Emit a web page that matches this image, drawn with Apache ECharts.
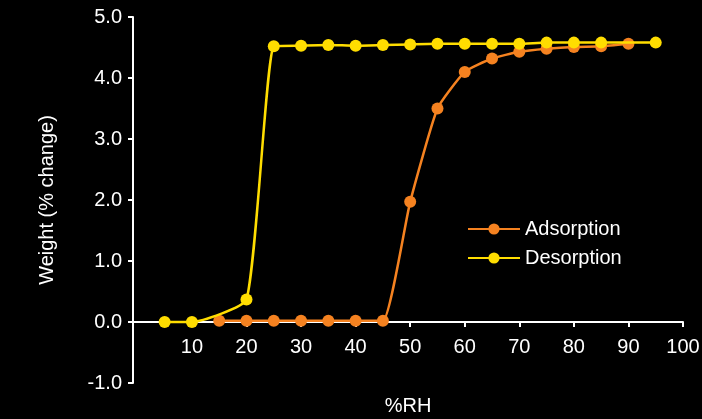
<!DOCTYPE html>
<html>
<head>
<meta charset="utf-8">
<script src="https://cdn.jsdelivr.net/npm/echarts@6/dist/echarts.min.js"></script>
<style>
html,body{margin:0;padding:0;background:#000;}
#c{width:702px;height:419px;}
</style>
</head>
<body>
<div id="c"></div>
<script>
const adsorptionRH = [15, 20, 25, 30, 35, 40, 45, 50, 55, 60, 65, 70, 75, 80, 85, 90];
const adsorptionWt = [0.02, 0.02, 0.02, 0.02, 0.02, 0.02, 0.02, 1.97, 3.5, 4.1, 4.32, 4.43, 4.48, 4.51, 4.52, 4.56];
const desorptionRH = [5, 10, 20, 25, 30, 35, 40, 45, 50, 55, 60, 65, 70, 75, 80, 85, 95];
const desorptionWt = [0.0, 0.0, 0.37, 4.52, 4.53, 4.54, 4.53, 4.54, 4.55, 4.56, 4.56, 4.56, 4.56, 4.58, 4.58, 4.58, 4.58];
const xTicks = [10, 20, 30, 40, 50, 60, 70, 80, 90, 100];
const yTicks = [-1, 0, 1, 2, 3, 4, 5];

const FONT = '"Liberation Sans", Arial, Helvetica, sans-serif';
const chart = echarts.init(document.getElementById('c'));
chart.setOption({
  backgroundColor: '#000',
  animation: false,
  grid: { left: 133, right: 19, top: 17, bottom: 36, containLabel: false, outerBoundsMode: 'none' },
  legend: {
    orient: 'vertical',
    left: 467,
    top: 219,
    padding: 0,
    itemWidth: 52,
    itemHeight: 14,
    itemGap: 9,
    textStyle: { color: '#fff', fontSize: 20, fontFamily: FONT },
    data: ['Adsorption', 'Desorption']
  },
  xAxis: {
    type: 'value',
    min: -0.8,
    max: 100,
    name: '%RH',
    nameLocation: 'middle',
    nameGap: 13,
    nameTextStyle: { color: '#fff', fontSize: 20, fontFamily: FONT },
    axisLine: { onZero: true, lineStyle: { color: '#fff', width: 2 } },
    axisTick: { show: true, length: 5, lineStyle: { color: '#fff', width: 2 }, customValues: xTicks },
    axisLabel: { color: '#fff', fontSize: 20, fontFamily: FONT, margin: -46, customValues: xTicks },
    splitLine: { show: false }
  },
  yAxis: {
    type: 'value',
    min: -1,
    max: 5,
    interval: 1,
    name: 'Weight (% change)',
    nameLocation: 'middle',
    nameGap: 76,
    nameTextStyle: { color: '#fff', fontSize: 20, fontFamily: FONT },
    axisLine: { show: true, onZero: false, lineStyle: { color: '#fff', width: 2 } },
    axisTick: { show: true, length: 5, lineStyle: { color: '#fff', width: 2 } },
    axisLabel: { color: '#fff', fontSize: 20, fontFamily: FONT, margin: 11,
      formatter: v => yTicks.includes(v) ? v.toFixed(1) : '' },
    splitLine: { show: false }
  },
  series: [
    {
      name: 'Adsorption',
      type: 'line',
      data: adsorptionRH.map((x, i) => [x, adsorptionWt[i]]),
      smooth: 0.15,
      symbol: 'circle',
      symbolSize: 12,
      color: '#F58220',
      lineStyle: { width: 2.5, color: '#F58220' },
      itemStyle: { color: '#F58220' },
      z: 2
    },
    {
      name: 'Desorption',
      type: 'line',
      data: desorptionRH.map((x, i) => [x, desorptionWt[i]]),
      smooth: 0.15,
      symbol: 'circle',
      symbolSize: 12,
      color: '#FFDD00',
      lineStyle: { width: 2.5, color: '#FFDD00' },
      itemStyle: { color: '#FFDD00' },
      z: 3
    }
  ]
});
</script>
</body>
</html>
